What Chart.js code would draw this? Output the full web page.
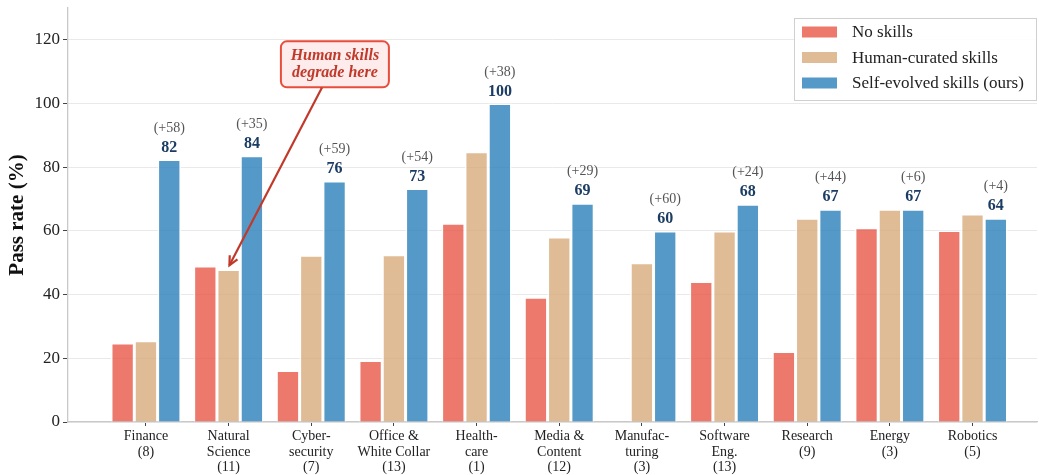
<!DOCTYPE html>
<html>
<head>
<meta charset="utf-8">
<script src="https://cdn.jsdelivr.net/npm/chart.js@4.4.1/dist/chart.umd.min.js"></script>
<style>
html, body { margin: 0; padding: 0; background: #fff; }
</style>
</head>
<body>
<canvas id="mycanvas" width="1039" height="475"></canvas>
<script>
// data
const categories = [["Finance", "(8)"], ["Natural", "Science", "(11)"], ["Cyber-", "security", "(7)"],
    ["Office &", "White Collar", "(13)"], ["Health-", "care", "(1)"], ["Media &", "Content", "(12)"],
    ["Manufac-", "turing", "(3)"], ["Software", "Eng.", "(13)"], ["Research", "(9)"], ["Energy", "(3)"], ["Robotics", "(5)"]];
const noSkills = [24.8, 49.0, 16.2, 19.3, 62.4, 39.2, 0, 44.1, 22.1, 61.0, 60.1];
const humanSkills = [25.5, 47.9, 52.4, 52.5, 84.9, 58.1, 50.0, 60.0, 64.0, 66.8, 65.3];
const selfSkills = [82.4, 83.6, 75.7, 73.3, 100, 68.7, 60.0, 68.4, 66.8, 66.8, 64.0];
const gainLabels = ["(+58)", "(+35)", "(+59)", "(+54)", "(+38)", "(+29)", "(+60)", "(+24)", "(+44)", "(+6)", "(+4)"];
const seriesNames = ["No skills", "Human-curated skills", "Self-evolved skills (ours)"];
const yTicks = [0, 20, 40, 60, 80, 100, 120];

const colors = ["rgba(231,76,60,0.75)", "rgba(212,164,115,0.75)", "rgba(41,128,185,0.8)"];
const serif = "'Liberation Serif', 'DejaVu Serif', serif";

function pts(arr) {
    return arr.map(function (v, i) { return { x: i, y: v }; });
}

// labels, legend, y title and the callout
const extras = {
    id: 'extras',
    afterDraw: function (chart) {
        const ctx = chart.ctx;
        const xs = chart.scales.x, ys = chart.scales.y;

        // numbers over the blue bars
        const meta = chart.getDatasetMeta(2);
        ctx.save();
        ctx.textAlign = 'center';
        ctx.textBaseline = 'alphabetic';
        meta.data.forEach(function (bar, i) {
            ctx.font = 'bold 16px ' + serif;
            ctx.fillStyle = '#1c3d63';
            ctx.fillText(String(Math.round(selfSkills[i])), bar.x, bar.y - 8);
            ctx.font = '14px ' + serif;
            ctx.fillStyle = '#555';
            ctx.fillText(gainLabels[i], bar.x, bar.y - 28);
        });
        ctx.restore();

        // y title
        ctx.save();
        ctx.translate(18, (chart.chartArea.top + chart.chartArea.bottom) / 2);
        ctx.rotate(-Math.PI / 2);
        ctx.font = 'bold 21px ' + serif;
        ctx.fillStyle = '#111';
        ctx.textAlign = 'center';
        ctx.textBaseline = 'middle';
        ctx.fillText('Pass rate (%)', 0, 0);
        ctx.restore();

        // legend box
        ctx.save();
        const lx = 794, ly = 18, lw = 242, lh = 82;
        ctx.fillStyle = 'rgba(255,255,255,0.9)';
        ctx.fillRect(lx, ly, lw, lh);
        ctx.strokeStyle = '#cfcfcf';
        ctx.lineWidth = 1;
        ctx.strokeRect(lx + 0.5, ly + 0.5, lw, lh);
        ctx.font = '17px ' + serif;
        ctx.textBaseline = 'middle';
        ctx.textAlign = 'left';
        seriesNames.forEach(function (name, i) {
            const ry = 32 + i * 25.5;
            ctx.fillStyle = colors[i];
            ctx.fillRect(802, ry - 5.5, 35, 11);
            ctx.fillStyle = '#222';
            ctx.fillText(name, 852, ry + 1);
        });
        ctx.restore();

        // callout: "Human skills degrade here"
        const bx = xs.getPixelForValue(2.286), by = ys.getPixelForValue(112.3);
        const bw = 108, bh = 46;
        ctx.save();
        ctx.beginPath();
        ctx.roundRect(bx - bw / 2, by - bh / 2, bw, bh, 6);
        ctx.fillStyle = '#fdeceb';
        ctx.fill();
        ctx.strokeStyle = '#e74c3c';
        ctx.lineWidth = 2;
        ctx.stroke();
        ctx.font = 'bold italic 16px ' + serif;
        ctx.fillStyle = '#c0392b';
        ctx.textAlign = 'center';
        ctx.textBaseline = 'middle';
        ctx.fillText('Human skills', bx, by - 9);
        ctx.fillText('degrade here', bx, by + 8);

        const sx = xs.getPixelForValue(2.13), sy = ys.getPixelForValue(105);
        const tx = xs.getPixelForValue(1.01), ty = ys.getPixelForValue(humanSkills[1] + 1.3);
        ctx.strokeStyle = '#c0392b';
        ctx.lineWidth = 2.2;
        ctx.beginPath();
        ctx.moveTo(sx, sy);
        ctx.lineTo(tx, ty);
        ctx.stroke();
        const ang = Math.atan2(ty - sy, tx - sx);
        ctx.beginPath();
        ctx.moveTo(tx - 10 * Math.cos(ang - 0.45), ty - 10 * Math.sin(ang - 0.45));
        ctx.lineTo(tx, ty);
        ctx.lineTo(tx - 10 * Math.cos(ang + 0.45), ty - 10 * Math.sin(ang + 0.45));
        ctx.stroke();
        ctx.restore();
    }
};

const ctx = document.getElementById('mycanvas');
const barGraph = new Chart(ctx, {
    type: 'bar',
    data: {
        datasets: [
            { label: seriesNames[0], data: pts(noSkills), backgroundColor: colors[0] },
            { label: seriesNames[1], data: pts(humanSkills), backgroundColor: colors[1] },
            { label: seriesNames[2], data: pts(selfSkills), backgroundColor: colors[2] }
        ]
    },
    options: {
        responsive: false,
        animation: false,
        devicePixelRatio: 1,
        layout: { padding: { top: 8, right: 2, left: 0, bottom: 0 } },
        datasets: {
            bar: {
                categoryPercentage: 0.846,
                barPercentage: 1,
                borderColor: '#fff',
                borderWidth: 1.5
            }
        },
        plugins: {
            legend: { display: false },
            tooltip: { enabled: false }
        },
        scales: {
            x: {
                type: 'linear',
                min: -0.943,
                max: 10.78,
                offset: false,
                afterBuildTicks: function (scale) {
                    scale.ticks = categories.map(function (c, i) { return { value: i }; });
                },
                afterFit: function (scale) { scale.height = 53; },
                grid: { drawOnChartArea: false, offset: false, tickLength: 4, tickColor: '#444', tickWidth: 1 },
                border: { color: '#c8c8c8', width: 1.3 },
                ticks: {
                    autoSkip: false,
                    maxRotation: 0,
                    padding: 3,
                    color: '#222',
                    font: { family: serif, size: 14, lineHeight: 1.1 },
                    callback: function (value) { return categories[value] || ''; }
                }
            },
            y: {
                min: 0,
                max: 130,
                afterBuildTicks: function (scale) {
                    scale.ticks = yTicks.map(function (v) { return { value: v }; });
                },
                afterFit: function (scale) { scale.width = 68; scale.paddingTop = 0; },
                grid: { color: '#e9e9e9', lineWidth: 1, tickLength: 5, tickColor: '#444' },
                border: { color: '#c8c8c8', width: 1.3 },
                ticks: {
                    padding: 3,
                    color: '#222',
                    font: { family: serif, size: 17 }
                }
            }
        }
    },
    plugins: [extras]
});
</script>
</body>
</html>
